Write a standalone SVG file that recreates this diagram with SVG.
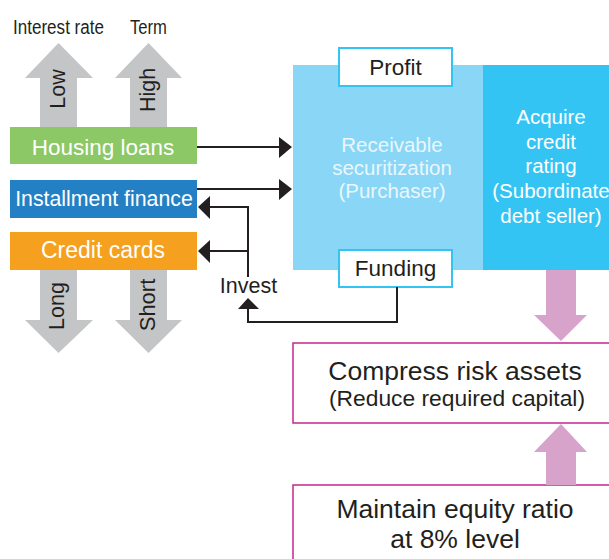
<svg xmlns="http://www.w3.org/2000/svg" width="609" height="559" viewBox="0 0 609 559">
  <style>
    text { font-family: "Liberation Sans", Arial, sans-serif; }
    .dark { fill: #231F20; }
    .white { fill: #FFFFFF; }
    .soft { fill: #EAF7FD; }
    .gray { fill: #C4C5C7; }
    .pink { fill: #D8A3CA; }
    .wire { fill: none; stroke: #231F20; stroke-width: 2; }
    .head { fill: #231F20; }
    .tag { fill: #FFFFFF; stroke: #34C4F3; stroke-width: 2; }
    .goal { fill: #FFFFFF; stroke: #C4278C; stroke-width: 1.5; }
  </style>

  <!-- axis arrows -->
  <g id="axis-interest">
    <text x="58.5" y="34" font-size="19.5" class="dark" text-anchor="middle" textLength="91" lengthAdjust="spacingAndGlyphs">Interest rate</text>
    <polygon class="gray" points="58.5,43 93,78 77,78 77,128 40,128 40,78 25,78"/>
    <polygon class="gray" points="40,270 77,270 77,320 93,320 58.5,353 25,320 40,320"/>
    <text transform="translate(65,89) rotate(-90)" font-size="21.5" class="dark" text-anchor="middle">Low</text>
    <text transform="translate(64,306) rotate(-90)" font-size="21.5" class="dark" text-anchor="middle">Long</text>
  </g>
  <g id="axis-term">
    <text x="148.5" y="34" font-size="19.5" class="dark" text-anchor="middle" textLength="37" lengthAdjust="spacingAndGlyphs">Term</text>
    <polygon class="gray" points="148.5,43 182,78 167,78 167,128 130,128 130,78 115,78"/>
    <polygon class="gray" points="130,270 167,270 167,320 182,320 148.5,353 115,320 130,320"/>
    <text transform="translate(155,90) rotate(-90)" font-size="21.5" class="dark" text-anchor="middle">High</text>
    <text transform="translate(155,305) rotate(-90)" font-size="22" class="dark" text-anchor="middle">Short</text>
  </g>

  <!-- product boxes -->
  <g id="housing-loans">
    <rect x="10" y="127" width="187" height="37" fill="#8CC866"/>
    <text x="103" y="155" font-size="22.5" class="white" text-anchor="middle">Housing loans</text>
  </g>
  <g id="installment-finance">
    <rect x="10" y="180" width="187" height="38" fill="#2480C4"/>
    <text x="104" y="206" font-size="21.3" class="white" text-anchor="middle">Installment finance</text>
  </g>
  <g id="credit-cards">
    <rect x="10" y="232" width="187" height="38" fill="#F5A01F"/>
    <text x="103" y="258" font-size="23" class="white" text-anchor="middle">Credit cards</text>
  </g>

  <!-- securitization blocks -->
  <g id="securitization">
    <rect x="293" y="65" width="190" height="205" fill="#89D6F6"/>
    <text x="392" y="152" font-size="20.5" class="soft" text-anchor="middle">Receivable</text>
    <text x="392" y="175" font-size="20.5" class="soft" text-anchor="middle">securitization</text>
    <text x="392" y="198" font-size="20.5" class="soft" text-anchor="middle">(Purchaser)</text>
  </g>
  <g id="credit-rating">
    <rect x="483" y="65" width="130" height="205" fill="#34C4F3"/>
    <text x="551" y="124" font-size="20.5" class="white" text-anchor="middle">Acquire</text>
    <text x="551" y="149" font-size="20.5" class="white" text-anchor="middle">credit</text>
    <text x="551" y="173" font-size="20.5" class="white" text-anchor="middle">rating</text>
    <text x="551" y="198" font-size="20.5" class="white" text-anchor="middle">(Subordinate</text>
    <text x="551" y="223" font-size="20.5" class="white" text-anchor="middle">debt seller)</text>
  </g>
  <g id="profit">
    <rect class="tag" x="339" y="48" width="113" height="38"/>
    <text x="395.5" y="75" font-size="22.5" class="dark" text-anchor="middle">Profit</text>
  </g>
  <g id="funding">
    <rect class="tag" x="339" y="250" width="113" height="37"/>
    <text x="395.5" y="276" font-size="22.5" class="dark" text-anchor="middle">Funding</text>
  </g>

  <!-- outcome boxes -->
  <g id="compress-risk">
    <rect class="goal" x="293" y="343" width="330" height="80"/>
    <text x="455" y="380" font-size="26.5" class="dark" text-anchor="middle">Compress risk assets</text>
    <text x="457" y="406" font-size="22.8" class="dark" text-anchor="middle">(Reduce required capital)</text>
  </g>
  <g id="equity-ratio">
    <rect class="goal" x="293" y="485" width="330" height="90"/>
    <text x="455" y="518" font-size="26.5" class="dark" text-anchor="middle">Maintain equity ratio</text>
    <text x="455" y="548" font-size="26.5" class="dark" text-anchor="middle">at 8% level</text>
  </g>

  <!-- connectors -->
  <g id="connectors">
    <line class="wire" x1="197" y1="147" x2="281" y2="147"/>
    <polygon class="head" points="279,137 292,147 279,158"/>
    <line class="wire" x1="197" y1="189" x2="281" y2="189"/>
    <polygon class="head" points="279,179 292,189 279,200"/>

    <polyline class="wire" points="209,207 248,207 248,277"/>
    <polygon class="head" points="210,196 198,207 210,219"/>
    <line class="wire" x1="209" y1="251" x2="248" y2="251"/>
    <polygon class="head" points="210,240 198,251 210,263"/>

    <text x="248.5" y="293" font-size="21.5" class="dark" text-anchor="middle">Invest</text>

    <polyline class="wire" points="397,287 397,322 248,322 248,308"/>
    <polygon class="head" points="238,309 248,298 259,309"/>

    <polygon class="pink" points="546,270 576,270 576,315 587,315 561,341 534,315 546,315"/>
    <polygon class="pink" points="561,424 587,452 576,452 576,485 546,485 546,452 534,452"/>
  </g>
</svg>
